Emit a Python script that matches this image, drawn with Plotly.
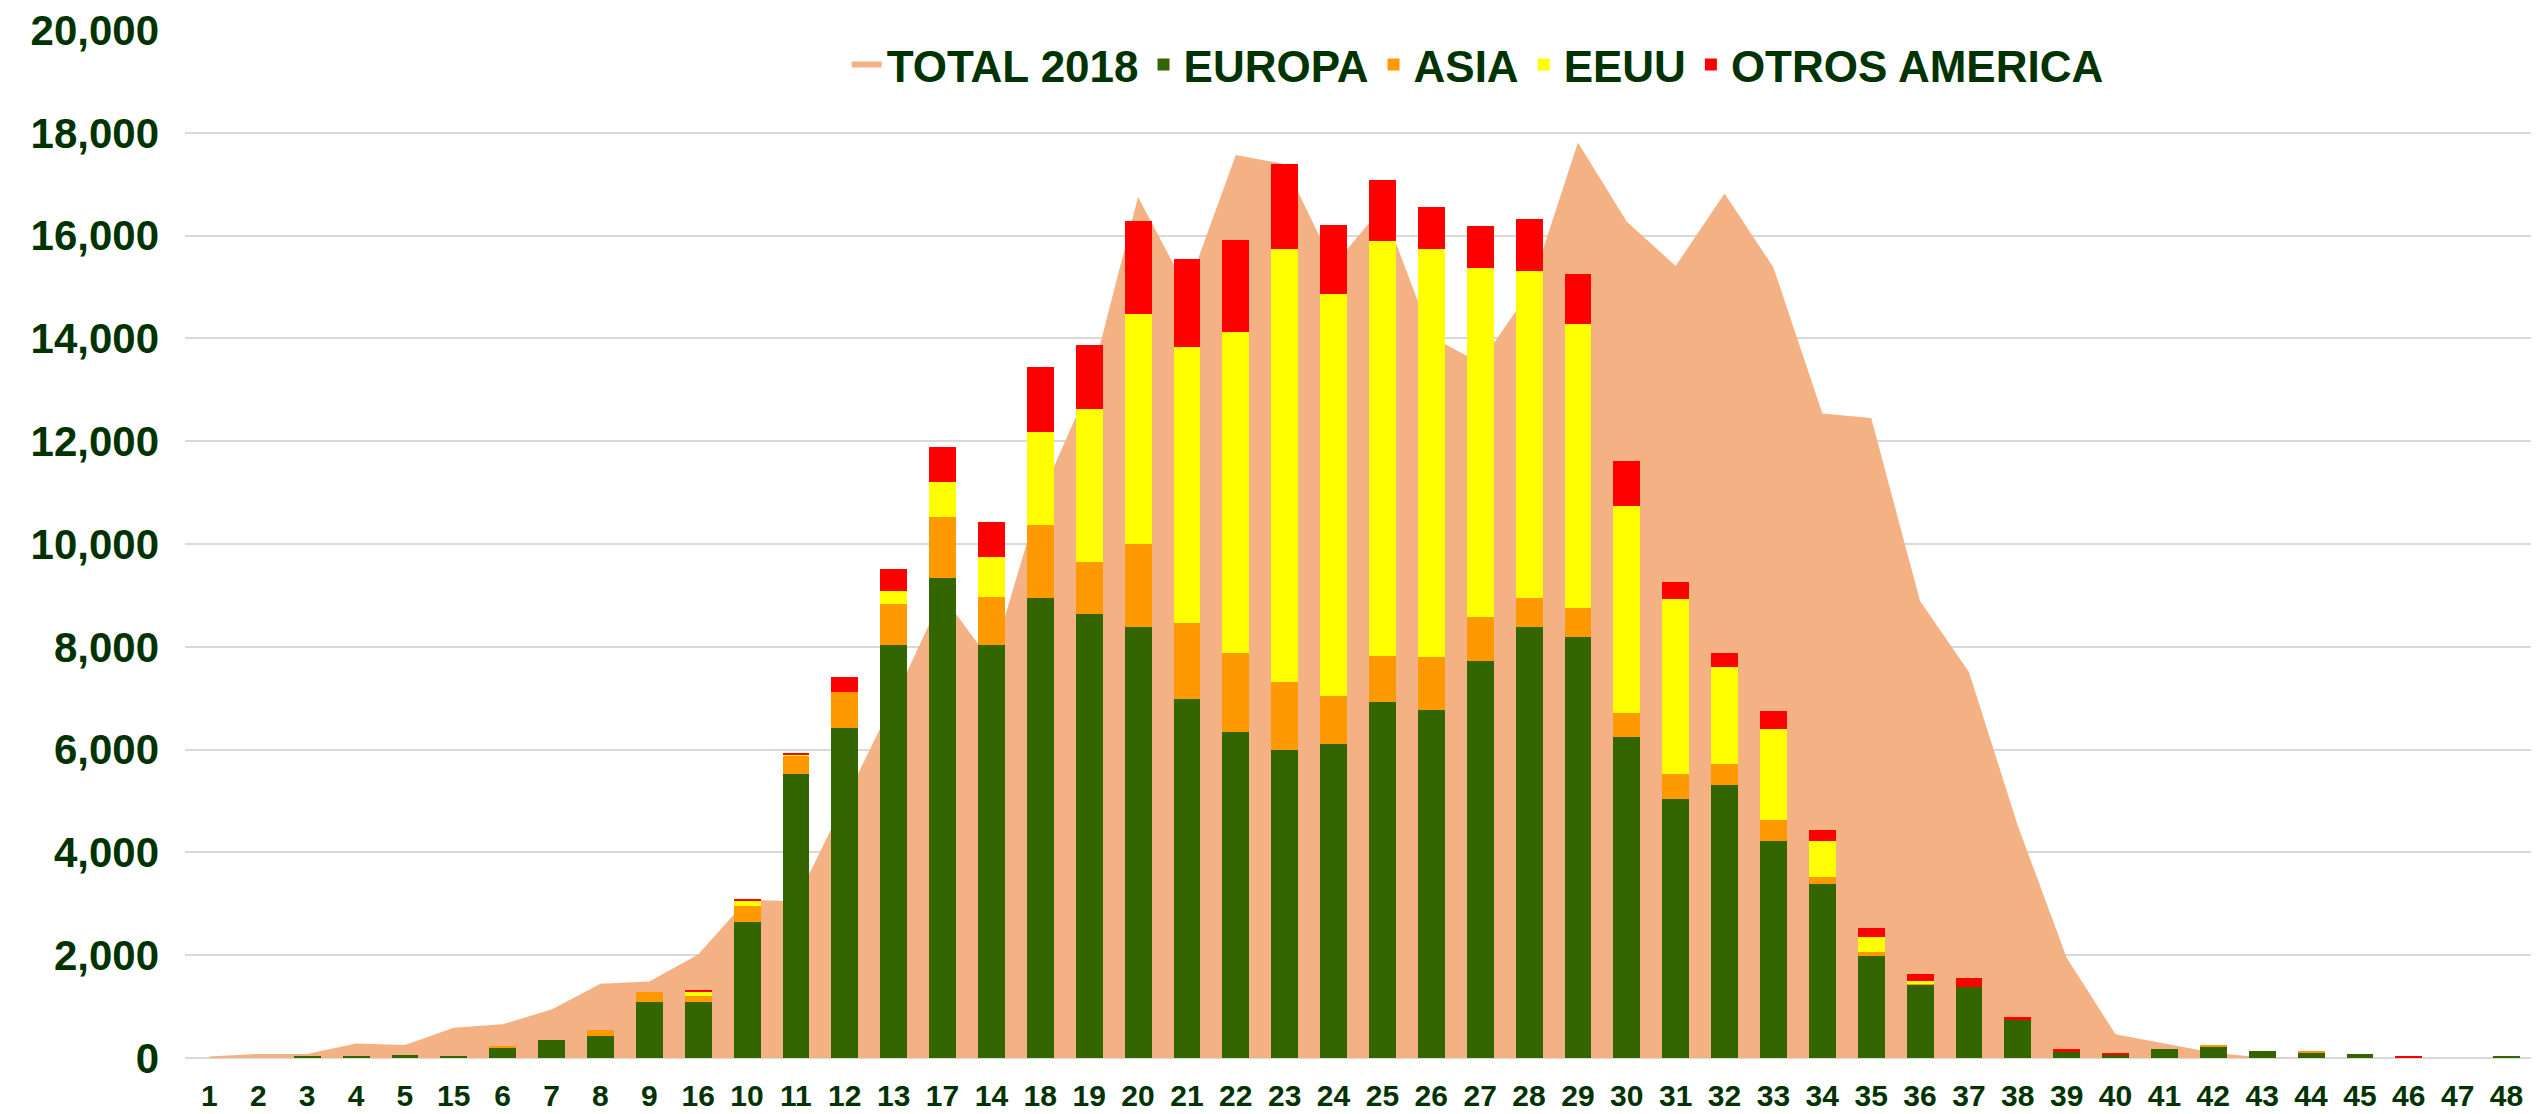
import plotly.graph_objects as go

categories = ["1", "2", "3", "4", "5", "15", "6", "7", "8", "9",
              "16", "10", "11", "12", "13", "17", "14", "18", "19", "20",
              "21", "22", "23", "24", "25", "26", "27", "28", "29", "30",
              "31", "32", "33", "34", "35", "36", "37", "38", "39", "40",
              "41", "42", "43", "44", "45", "46", "47", "48"]

total_2018 = [30, 80, 80, 280, 255, 590, 655, 945, 1445, 1490,
              2015, 3080, 3050, 5000, 6950, 9000, 7700, 10900, 13060, 16750,
              14950, 17570, 17390, 15420, 16550, 14030, 13520, 14900, 17810, 16270,
              15410, 16820, 15380, 12540, 12450, 8890, 7510, 4520, 1950, 460,
              280, 100, 10, 0, 0, 0, 0, 0]

europa = [0, 0, 36, 36, 50, 36, 200, 356, 420, 1097,
          1084, 2654, 5524, 6413, 8039, 9332, 8039, 8949, 8637, 8378,
          6976, 6344, 5998, 6109, 6935, 6776, 7732, 8385, 8183, 6243,
          5040, 5303, 4226, 3391, 1981, 1432, 1376, 730, 125, 64,
          174, 223, 134, 92, 78, 0, 0, 43]

asia = [0, 0, 0, 0, 0, 0, 20, 0, 128, 178,
        125, 299, 361, 709, 799, 1202, 932, 1415, 1008, 1628,
        1484, 1542, 1327, 931, 889, 1034, 840, 555, 563, 464,
        486, 424, 412, 125, 83, 15, 0, 0, 0, 0,
        0, 34, 0, 42, 0, 0, 0, 0]

eeuu = [0, 0, 0, 0, 0, 0, 0, 0, 0, 0,
        76, 111, 28, 0, 250, 674, 778, 1815, 2981, 4461,
        5382, 6247, 8407, 7830, 8074, 7936, 6806, 6375, 5540, 4029,
        3410, 1881, 1764, 708, 292, 45, 0, 0, 0, 0,
        0, 0, 0, 0, 0, 0, 0, 0]

otros_america = [0, 0, 0, 0, 0, 0, 0, 0, 0, 0,
                 35, 35, 28, 292, 417, 681, 687, 1265, 1250, 1821,
                 1702, 1786, 1654, 1334, 1175, 820, 806, 1015, 966, 883,
                 319, 278, 348, 216, 174, 135, 180, 70, 55, 21,
                 0, 0, 0, 0, 0, 30, 0, 0]

TEXT = "#003300"
FONT = "Liberation Sans, Arial, sans-serif"

fig = go.Figure()
fig.add_trace(go.Scatter(
    x=categories, y=total_2018, name="TOTAL 2018",
    mode="none", fill="tozeroy", fillcolor="#F4B183",
    xaxis="x", yaxis="y"))

series = [("EUROPA", europa, "#336600"),
          ("ASIA", asia, "#FF9900"),
          ("EEUU", eeuu, "#FFFF00"),
          ("OTROS AMERICA", otros_america, "#FF0000")]
for name, vals, color in series:
    fig.add_trace(go.Bar(
        x=categories, y=vals, name=name,
        marker=dict(color=color, line=dict(width=0)),
        xaxis="x", yaxis="y2"))

# the page body adds an 8px offset, so the figure is sized to fit the window
fig.update_layout(
    width=2531, height=1106,
    margin=dict(l=177, r=8, t=22, b=56),
    paper_bgcolor="white", plot_bgcolor="white",
    barmode="stack", bargap=0.45,
    hovermode=False,
    font=dict(family=FONT, color=TEXT),
    xaxis=dict(type="category", showgrid=False, zeroline=False,
               showline=False, ticks="", automargin=False,
               ticklabeloverflow="allow",
               tickfont=dict(family=FONT, size=30, color=TEXT, weight="bold"),
               ticklabelstandoff=17),
    yaxis=dict(range=[0, 20000], dtick=2000, tickformat=",",
               showgrid=True, gridcolor="#D9D9D9", gridwidth=2,
               zeroline=True, zerolinecolor="#D9D9D9", zerolinewidth=2,
               ticks="", showline=False, automargin=False,
               ticklabeloverflow="allow",
               tickfont=dict(family=FONT, size=42, color=TEXT, weight="bold"),
               ticklabelstandoff=25),
    yaxis2=dict(range=[0, 20000], overlaying="y", side="left",
                showgrid=False, zeroline=False, showticklabels=False,
                ticks="", showline=False, automargin=False),
    legend=dict(orientation="h", x=0.551, xanchor="center",
                y=0.966, yanchor="middle", traceorder="normal",
                bgcolor="rgba(0,0,0,0)",
                font=dict(family=FONT, size=44, color=TEXT, weight="bold")),
)

fig.write_html("out.html")
